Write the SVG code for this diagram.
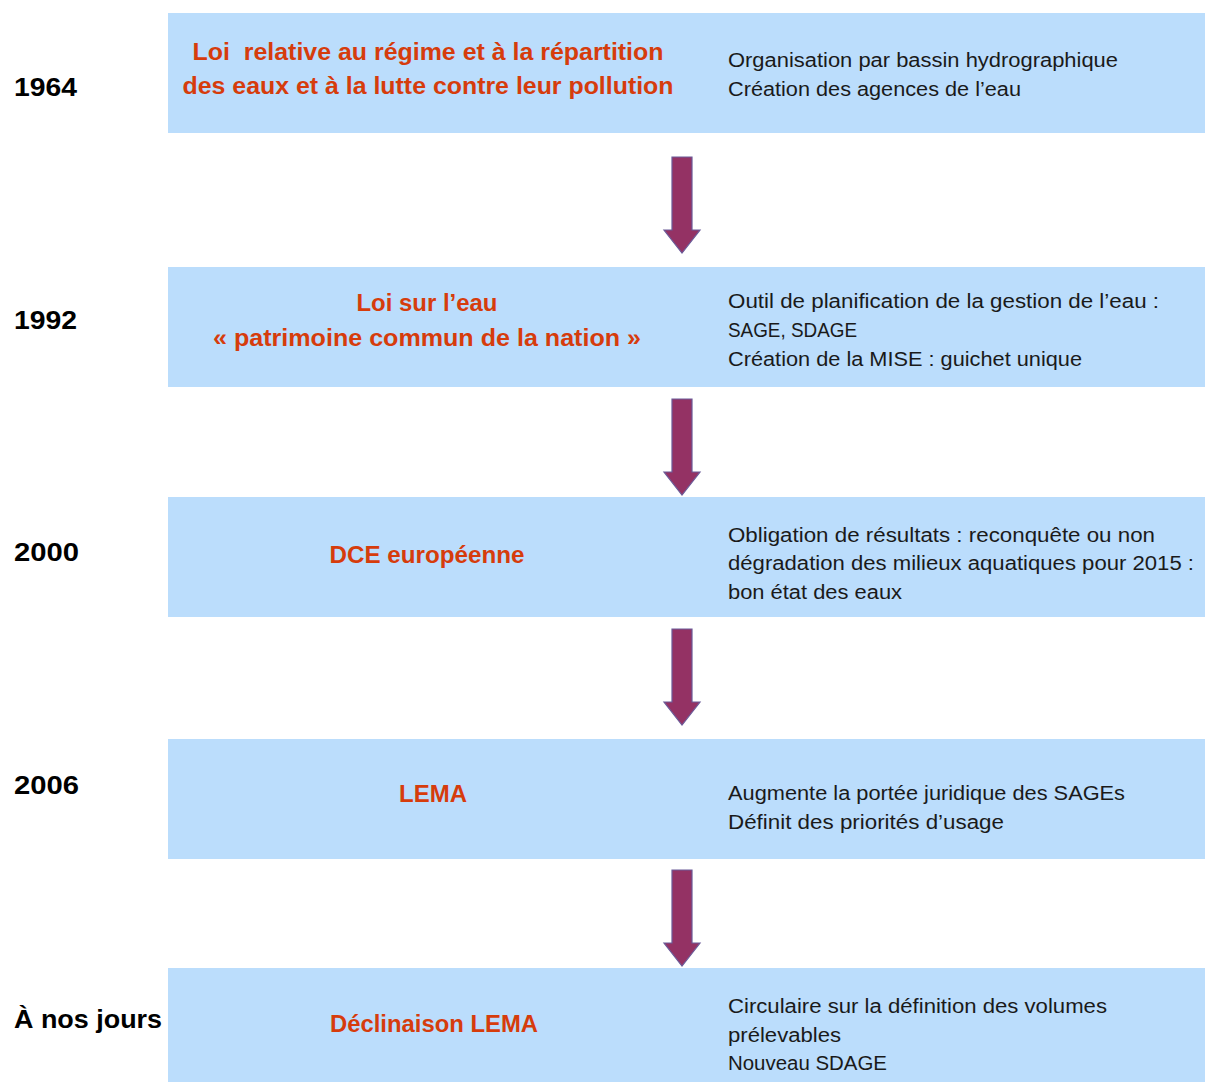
<svg xmlns="http://www.w3.org/2000/svg" width="1205" height="1082" viewBox="0 0 1205 1082">
<defs>
<style>
.box{fill:#bbddfc;}
.year{font-family:"Liberation Sans",Arial,sans-serif;font-weight:bold;font-size:26px;fill:#000;}
.title{font-family:"Liberation Sans",Arial,sans-serif;font-weight:bold;font-size:23px;fill:#d63c0c;text-anchor:middle;}
.desc{font-family:"Liberation Sans",Arial,sans-serif;font-size:19.5px;fill:#1a1a1a;}
.arrow{fill:#943264;stroke:#6b5a98;stroke-width:1.2;}
</style>
</defs>
<rect width="1205" height="1082" fill="#ffffff"/>
<g id="node-1964">
<rect class="box" x="168" y="13" width="1037" height="120"/>
<text class="year" x="14" y="96" textLength="63" lengthAdjust="spacingAndGlyphs">1964</text>
<text class="title" x="428" y="60" textLength="471" lengthAdjust="spacingAndGlyphs" xml:space="preserve">Loi  relative au régime et à la répartition</text>
<text class="title" x="428" y="94" textLength="491" lengthAdjust="spacingAndGlyphs">des eaux et à la lutte contre leur pollution</text>
<text class="desc" x="728" y="67" textLength="390" lengthAdjust="spacingAndGlyphs">Organisation par bassin hydrographique</text>
<text class="desc" x="728" y="96" textLength="293" lengthAdjust="spacingAndGlyphs">Création des agences de l’eau</text>
</g>
<g id="node-1992">
<rect class="box" x="168" y="267" width="1037" height="120"/>
<text class="year" x="14" y="329" textLength="63" lengthAdjust="spacingAndGlyphs">1992</text>
<text class="title" x="427" y="311" textLength="141" lengthAdjust="spacingAndGlyphs">Loi sur l’eau</text>
<text class="title" x="427" y="346" textLength="428" lengthAdjust="spacingAndGlyphs">« patrimoine commun de la nation »</text>
<text class="desc" x="728" y="308" textLength="431" lengthAdjust="spacingAndGlyphs">Outil de planification de la gestion de l’eau :</text>
<text class="desc" x="728" y="337" textLength="129" lengthAdjust="spacingAndGlyphs">SAGE, SDAGE</text>
<text class="desc" x="728" y="366" textLength="354" lengthAdjust="spacingAndGlyphs">Création de la MISE : guichet unique</text>
</g>
<g id="node-2000">
<rect class="box" x="168" y="497" width="1037" height="120"/>
<text class="year" x="14" y="561" textLength="65" lengthAdjust="spacingAndGlyphs">2000</text>
<text class="title" x="427" y="563" textLength="195" lengthAdjust="spacingAndGlyphs">DCE européenne</text>
<text class="desc" x="728" y="542" textLength="427" lengthAdjust="spacingAndGlyphs">Obligation de résultats : reconquête ou non</text>
<text class="desc" x="728" y="570" textLength="466" lengthAdjust="spacingAndGlyphs">dégradation des milieux aquatiques pour 2015 :</text>
<text class="desc" x="728" y="599" textLength="174" lengthAdjust="spacingAndGlyphs">bon état des eaux</text>
</g>
<g id="node-2006">
<rect class="box" x="168" y="739" width="1037" height="120"/>
<text class="year" x="14" y="794" textLength="65" lengthAdjust="spacingAndGlyphs">2006</text>
<text class="title" x="433" y="802" textLength="68" lengthAdjust="spacingAndGlyphs">LEMA</text>
<text class="desc" x="728" y="800" textLength="397" lengthAdjust="spacingAndGlyphs">Augmente la portée juridique des SAGEs</text>
<text class="desc" x="728" y="829" textLength="276" lengthAdjust="spacingAndGlyphs">Définit des priorités d’usage</text>
</g>
<g id="node-today">
<rect class="box" x="168" y="968" width="1037" height="114"/>
<text class="year" x="14" y="1028" textLength="148" lengthAdjust="spacingAndGlyphs">À nos jours</text>
<text class="title" x="434" y="1032" textLength="208" lengthAdjust="spacingAndGlyphs">Déclinaison LEMA</text>
<text class="desc" x="728" y="1013" textLength="379" lengthAdjust="spacingAndGlyphs">Circulaire sur la définition des volumes</text>
<text class="desc" x="728" y="1042" textLength="113" lengthAdjust="spacingAndGlyphs">prélevables</text>
<text class="desc" x="728" y="1070" textLength="159" lengthAdjust="spacingAndGlyphs">Nouveau SDAGE</text>
</g>
<g id="connectors">
<path class="arrow" d="M672,157 H692 V230 H700 L682,253 L664,230 H672 Z"/>
<path class="arrow" d="M672,399 H692 V472 H700 L682,495 L664,472 H672 Z"/>
<path class="arrow" d="M672,629 H692 V702 H700 L682,725 L664,702 H672 Z"/>
<path class="arrow" d="M672,870 H692 V943 H700 L682,966 L664,943 H672 Z"/>
</g>
</svg>
